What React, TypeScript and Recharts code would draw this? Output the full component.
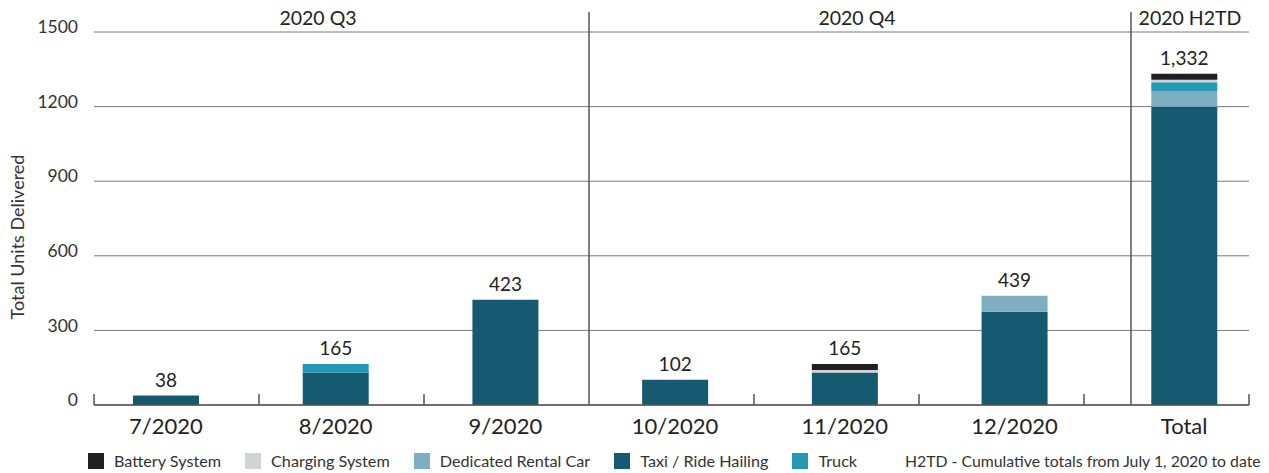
import React from 'react';
import { BarChart, Bar, XAxis, YAxis, CartesianGrid, LabelList } from 'recharts';

const categories = ['7/2020', '8/2020', '9/2020', '10/2020', '11/2020', '12/2020', 'Total'];
const taxiRideHailing = [38, 130, 423, 102, 131, 375, 1199];
const dedicatedRentalCar = [0, 0, 0, 0, 0, 64, 64];
const truck = [0, 35, 0, 0, 0, 0, 35];
const chargingSystem = [0, 0, 0, 0, 10, 0, 10];
const batterySystem = [0, 0, 0, 0, 24, 0, 24];
const totalLabels = ['38', '165', '423', '102', '165', '439', '1,332'];
const yTicks = [0, 300, 600, 900, 1200, 1500];

const COLORS = {
  battery: '#231f20',
  charging: '#d1d3d4',
  dedicated: '#7eaec1',
  taxi: '#165a72',
  truck: '#2399b4',
};

const legendItems = [
  { name: 'Battery System', color: COLORS.battery },
  { name: 'Charging System', color: COLORS.charging },
  { name: 'Dedicated Rental Car', color: COLORS.dedicated },
  { name: 'Taxi / Ride Hailing', color: COLORS.taxi },
  { name: 'Truck', color: COLORS.truck },
];

const data = categories.map((name, i) => ({
  name,
  taxi: taxiRideHailing[i],
  dedicated: dedicatedRentalCar[i],
  truck: truck[i],
  charging: chargingSystem[i],
  battery: batterySystem[i],
  label: totalLabels[i],
}));

// layout (decorations only)
const W = 1269;
const H = 473;
const BAR_AREA_LEFT = 81; // bars sit slightly wider than the gridded frame
const GRID_LEFT = 94;
const GRID_RIGHT = 1249;
const PLOT_TOP = 32;
const PLOT_BOTTOM = 405;
const TICK_BAND = (GRID_RIGHT - GRID_LEFT) / categories.length;

const font = 'Lato, "Open Sans", sans-serif';

// total label drawn above the whole stack, using the taxi segment's pixel scale
const TotalLabel = (props: any) => {
  const vb = props.viewBox || props;
  const i = props.index;
  if (i == null || !vb) return null;
  const base = taxiRideHailing[i];
  const total =
    taxiRideHailing[i] + dedicatedRentalCar[i] + truck[i] + chargingSystem[i] + batterySystem[i];
  const perUnit = vb.height / base;
  const top = vb.y + vb.height - total * perUnit;
  return (
    <text x={vb.x + vb.width / 2} y={top - 9} textAnchor="middle" fontSize={19} fill="#222" fontFamily={font}>
      {totalLabels[i]}
    </text>
  );
};

const App = () => {
  const boundaryTicks = Array.from({ length: categories.length + 1 }, (_, i) => GRID_LEFT + i * TICK_BAND);
  return (
    <div style={{ position: 'absolute', left: 0, top: 0, width: W, height: H, background: '#fff', fontFamily: font }}>
      <BarChart
        width={W}
        height={H}
        data={data}
        margin={{ top: PLOT_TOP, right: 0, left: 0, bottom: H - PLOT_BOTTOM - 40 }}
        barSize={66}
      >
        <CartesianGrid
          vertical={false}
          stroke="#7a7a7a"
          strokeWidth={1}
          x={GRID_LEFT}
          width={GRID_RIGHT - GRID_LEFT}
        />
        <XAxis
          dataKey="name"
          height={40}
          tickLine={false}
          axisLine={false}
          tick={{ fontSize: 22, fill: '#222', fontFamily: font }}
          tickMargin={7}
          interval={0}
        />
        <YAxis
          width={BAR_AREA_LEFT}
          domain={[0, 1500]}
          ticks={yTicks}
          axisLine={false}
          tickLine={false}
          tickSize={0}
          tickMargin={3}
          tick={{ fontSize: 17.5, fill: '#333', fontFamily: font, dy: -5 }}
          label={{
            content: () => (
              <text
                x={24}
                y={237}
                transform="rotate(-90 24 237)"
                textAnchor="middle"
                fontSize={18}
                fill="#333"
                fontFamily={font}
              >
                Total Units Delivered
              </text>
            ),
          }}
        />
        <Bar dataKey="taxi" stackId="a" fill={COLORS.taxi} isAnimationActive={false}>
          <LabelList dataKey="label" content={TotalLabel} />
        </Bar>
        <Bar dataKey="dedicated" stackId="a" fill={COLORS.dedicated} isAnimationActive={false} />
        <Bar dataKey="truck" stackId="a" fill={COLORS.truck} isAnimationActive={false} />
        <Bar dataKey="charging" stackId="a" fill={COLORS.charging} isAnimationActive={false} />
        <Bar dataKey="battery" stackId="a" fill={COLORS.battery} isAnimationActive={false} />
      </BarChart>

      <svg width={W} height={H} style={{ position: 'absolute', left: 0, top: 0, pointerEvents: 'none' }}>
        <line x1={GRID_LEFT} x2={GRID_RIGHT} y1={PLOT_BOTTOM} y2={PLOT_BOTTOM} stroke="#555" strokeWidth={1.5} />
        {boundaryTicks.map((x, i) =>
          i === 3 ? null : <line key={i} x1={x} x2={x} y1={PLOT_BOTTOM - 11} y2={PLOT_BOTTOM} stroke="#555" strokeWidth={1.5} />
        )}
        <line x1={GRID_LEFT + 3 * TICK_BAND} x2={GRID_LEFT + 3 * TICK_BAND} y1={12} y2={PLOT_BOTTOM} stroke="#555" strokeWidth={1.5} />
        <line x1={1131} x2={1131} y1={12} y2={PLOT_BOTTOM} stroke="#555" strokeWidth={1.5} />
        <text x={318} y={25} textAnchor="middle" fontSize={19.5} fill="#222" fontFamily={font}>2020 Q3</text>
        <text x={857} y={25} textAnchor="middle" fontSize={19.5} fill="#222" fontFamily={font}>2020 Q4</text>
        <text x={1190} y={25} textAnchor="middle" fontSize={19.5} fill="#222" fontFamily={font}>2020 H2TD</text>
      </svg>

      <div
        style={{
          position: 'absolute',
          left: 88,
          top: 451,
          display: 'flex',
          alignItems: 'center',
          fontSize: 16.2,
          color: '#333',
          whiteSpace: 'nowrap',
        }}
      >
        {legendItems.map((item) => (
          <div key={item.name} style={{ display: 'flex', alignItems: 'center', marginRight: 24 }}>
            <div style={{ width: 16, height: 16, background: item.color, marginRight: 10 }} />
            <span>{item.name}</span>
          </div>
        ))}
      </div>
      <div style={{ position: 'absolute', left: 905, top: 451, fontSize: 15.8, color: '#333', whiteSpace: 'nowrap' }}>
        H2TD - Cumulative totals from July 1, 2020 to date
      </div>
    </div>
  );
};

export default App;
